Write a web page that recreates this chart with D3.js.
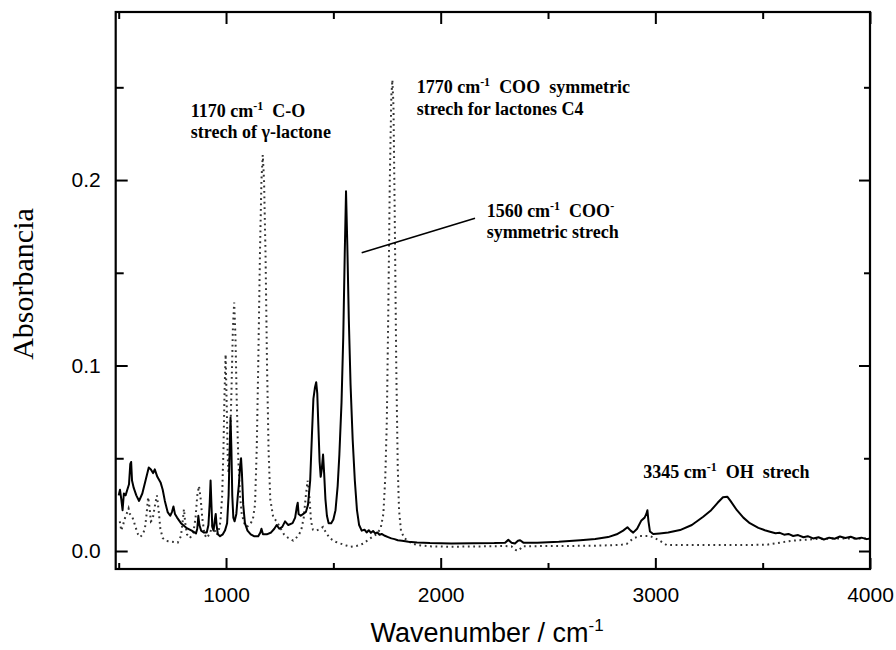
<!DOCTYPE html>
<html>
<head>
<meta charset="utf-8">
<script src="https://cdn.jsdelivr.net/npm/d3@7"></script>
<style>
  html, body { margin: 0; padding: 0; background: #fff; }
  svg { display: block; }
  text { white-space: pre; }
</style>
</head>
<body>
<svg id="chart" width="896" height="650"></svg>
<script>
// ---------- DATA ----------
// Solid spectrum (wavenumber cm-1, absorbance)
const solidWave = [500,506,512,518,524,532,540,548,554,558,562,570,582,595,610,625,640,650,660,668,680,695,705,715,728,740,748,755,762,772,790,815,840,860,866,871,876,884,896,910,918,924,928,932,936,942,948,952,956,962,972,985,995,1005,1012,1017,1021,1025,1029,1034,1040,1048,1055,1060,1065,1070,1074,1080,1088,1100,1115,1130,1150,1160,1165,1172,1190,1210,1225,1236,1248,1262,1275,1290,1310,1322,1330,1334,1338,1348,1360,1372,1382,1392,1400,1407,1414,1420,1425,1430,1436,1441,1446,1452,1457,1463,1470,1478,1490,1500,1510,1520,1528,1538,1546,1553,1559,1565,1572,1580,1590,1600,1610,1620,1632,1645,1655,1665,1675,1685,1695,1705,1715,1725,1740,1755,1770,1785,1800,1820,1850,1890,1950,2050,2150,2250,2300,2315,2330,2346,2360,2370,2385,2450,2550,2650,2720,2780,2820,2850,2870,2885,2897,2915,2935,2950,2958,2963,2968,2975,2990,3020,3060,3115,3170,3223,3260,3290,3315,3335,3350,3380,3410,3440,3480,3510,3534,3560,3580,3600,3620,3642,3665,3690,3710,3735,3760,3785,3810,3835,3860,3885,3910,3935,3960,3985,4000];
const solidAbs  = [0.030,0.033,0.028,0.022,0.031,0.030,0.033,0.036,0.047,0.048,0.038,0.034,0.030,0.027,0.031,0.038,0.045,0.044,0.042,0.044,0.040,0.037,0.033,0.027,0.021,0.019,0.021,0.024,0.020,0.018,0.015,0.0125,0.011,0.0095,0.012,0.019,0.014,0.011,0.010,0.010,0.014,0.026,0.038,0.025,0.013,0.011,0.017,0.020,0.014,0.009,0.008,0.009,0.011,0.015,0.030,0.055,0.072,0.055,0.030,0.018,0.016,0.020,0.030,0.036,0.045,0.050,0.042,0.025,0.015,0.011,0.009,0.008,0.008,0.010,0.012,0.009,0.009,0.010,0.012,0.014,0.012,0.013,0.016,0.014,0.015,0.018,0.024,0.026,0.020,0.019,0.020,0.021,0.025,0.038,0.062,0.082,0.088,0.091,0.085,0.068,0.048,0.040,0.044,0.052,0.042,0.028,0.019,0.015,0.015,0.017,0.022,0.035,0.052,0.080,0.115,0.160,0.194,0.165,0.125,0.090,0.060,0.038,0.022,0.014,0.011,0.0115,0.010,0.0112,0.0098,0.0108,0.0095,0.0100,0.0088,0.0092,0.0082,0.0075,0.0068,0.0064,0.0058,0.0055,0.0050,0.0046,0.0043,0.0041,0.0042,0.0043,0.0045,0.0060,0.0045,0.0040,0.0055,0.0058,0.0045,0.0045,0.0050,0.0058,0.0065,0.0075,0.0090,0.0110,0.0128,0.0110,0.0099,0.0120,0.0165,0.0180,0.0200,0.0220,0.0160,0.0105,0.0092,0.0095,0.0100,0.0113,0.0140,0.0185,0.0220,0.0260,0.0290,0.0293,0.0270,0.0220,0.0180,0.0150,0.0125,0.0112,0.0104,0.0096,0.0098,0.0088,0.0092,0.0081,0.0086,0.0074,0.0080,0.0068,0.0074,0.0062,0.0072,0.0066,0.0078,0.0070,0.0077,0.0066,0.0072,0.0064,0.0068];

// Dotted spectrum (wavenumber cm-1, absorbance)
const dottedWave = [505,512,520,530,540,546,552,560,568,578,590,600,612,622,630,637,643,650,658,668,678,686,694,705,720,745,775,790,798,804,810,818,832,848,858,866,874,882,890,900,910,925,940,948,957,966,974,982,988,993,998,1003,1008,1012,1018,1025,1032,1038,1044,1050,1057,1065,1073,1085,1096,1110,1125,1135,1143,1150,1158,1165,1171,1177,1184,1191,1198,1206,1220,1236,1255,1270,1290,1313,1335,1350,1362,1372,1380,1388,1396,1405,1420,1440,1452,1465,1484,1510,1531,1560,1580,1610,1640,1671,1700,1720,1733,1742,1749,1756,1763,1770,1775,1780,1786,1793,1800,1806,1815,1830,1860,1890,1950,2050,2200,2300,2330,2350,2365,2380,2500,2700,2840,2866,2897,2928,2975,3014,3053,3200,3400,3520,3580,3642,3750,3850,4000];
const dottedAbs  = [0.016,0.011,0.014,0.018,0.021,0.023,0.020,0.019,0.017,0.013,0.009,0.0075,0.009,0.012,0.020,0.029,0.024,0.016,0.017,0.024,0.030,0.022,0.012,0.007,0.0055,0.005,0.0045,0.008,0.016,0.0225,0.015,0.009,0.007,0.010,0.018,0.030,0.035,0.028,0.017,0.009,0.007,0.0095,0.015,0.011,0.0086,0.011,0.016,0.030,0.055,0.085,0.106,0.080,0.050,0.042,0.055,0.085,0.120,0.134,0.115,0.080,0.050,0.030,0.020,0.015,0.013,0.014,0.017,0.025,0.055,0.100,0.160,0.200,0.2135,0.200,0.160,0.100,0.055,0.028,0.018,0.016,0.012,0.009,0.007,0.0056,0.008,0.011,0.018,0.030,0.038,0.030,0.016,0.0115,0.011,0.012,0.013,0.010,0.0068,0.005,0.0041,0.003,0.0023,0.0028,0.004,0.0068,0.009,0.012,0.020,0.040,0.070,0.130,0.200,0.245,0.254,0.240,0.180,0.100,0.045,0.022,0.011,0.007,0.0045,0.0032,0.0025,0.0023,0.0025,0.0027,0.0025,0.0005,0.0003,0.0025,0.0027,0.0028,0.0033,0.0038,0.0068,0.0081,0.0081,0.006,0.0032,0.0032,0.0032,0.0034,0.0045,0.0056,0.0065,0.0068,0.0068];

const xMajorTicks = [1000, 2000, 3000, 4000];
const xMinorTicks = [500, 1500, 2500, 3500];
const yMajorTicks = [0.0, 0.1, 0.2];
const yMinorTicks = [0.05, 0.15, 0.25];

const annotations = [
  { lines: [["1170 cm", "-1", "  C-O"], ["strech of \u03b3-lactone"]], w: 836, a: 0.2342 },
  { lines: [["1770 cm", "-1", "  COO  symmetric"], ["strech for lactones C4"]], w: 1888, a: 0.2468 },
  { lines: [["1560 cm", "-1", "  COO", "-", ""], ["symmetric strech"]], w: 2214, a: 0.1802 },
  { lines: [["3345 cm", "-1", "  OH  strech"]], w: 2944, a: 0.0395 }
];
const leaderLine = { w1: 1632, a1: 0.1608, w2: 2160, a2: 0.1794 };

// ---------- CHART ----------
const svg = d3.select("#chart");
const L = 115.7, R = 870, T = 12, B = 569;

const x = d3.scaleLinear().domain([486, 4000]).range([L, R]);
const y = d3.scaleLinear().domain([-0.0097, 0.2906]).range([B, T]);

const solid = solidWave.map((w, i) => [w, solidAbs[i]]);
const dotted = dottedWave.map((w, i) => [w, dottedAbs[i]]);

const line = d3.line().x(d => x(d[0])).y(d => y(d[1]));

const plot = svg.append("g");
plot.append("clipPath").attr("id", "clip").append("rect")
  .attr("x", L).attr("y", T).attr("width", R - L).attr("height", B - T);

plot.append("path").datum(dotted)
  .attr("clip-path", "url(#clip)")
  .attr("d", line).attr("fill", "none")
  .attr("stroke", "#333").attr("stroke-width", 2)
  .attr("stroke-dasharray", "1.8,3.6");

plot.append("path").datum(solid)
  .attr("clip-path", "url(#clip)")
  .attr("d", line).attr("fill", "none")
  .attr("stroke", "#000").attr("stroke-width", 2)
  .attr("stroke-linejoin", "round");

// axes
const tickFont = "'Liberation Sans', Arial, sans-serif";
function styleAxis(g) {
  g.select(".domain").remove();
  g.selectAll(".tick line").attr("stroke", "#000").attr("stroke-width", 2);
  g.selectAll("text").attr("font-family", tickFont).attr("font-size", 21).attr("fill", "#000");
}
svg.append("g").attr("transform", `translate(0,${B})`)
  .call(d3.axisBottom(x).tickValues(xMajorTicks).tickSize(-11).tickPadding(18).tickFormat(d3.format("d")))
  .call(styleAxis);
svg.append("g").attr("transform", `translate(0,${B})`)
  .call(d3.axisBottom(x).tickValues(xMinorTicks).tickSize(-6).tickFormat(""))
  .call(styleAxis);
svg.append("g").attr("transform", `translate(0,${T})`)
  .call(d3.axisTop(x).tickValues(xMajorTicks).tickSize(-12).tickFormat(""))
  .call(styleAxis);
svg.append("g").attr("transform", `translate(0,${T})`)
  .call(d3.axisTop(x).tickValues(xMinorTicks).tickSize(-7).tickFormat(""))
  .call(styleAxis);
svg.append("g").attr("transform", `translate(${L},0)`)
  .call(d3.axisLeft(y).tickValues(yMajorTicks).tickSize(-12).tickPadding(15).tickFormat(d3.format(".1f")))
  .call(styleAxis);
svg.append("g").attr("transform", `translate(${L},0)`)
  .call(d3.axisLeft(y).tickValues(yMinorTicks).tickSize(-8).tickFormat(""))
  .call(styleAxis);
svg.append("g").attr("transform", `translate(${R},0)`)
  .call(d3.axisRight(y).tickValues(yMajorTicks).tickSize(-11).tickFormat(""))
  .call(styleAxis);
svg.append("g").attr("transform", `translate(${R},0)`)
  .call(d3.axisRight(y).tickValues(yMinorTicks).tickSize(-6).tickFormat(""))
  .call(styleAxis);

// frame
svg.append("rect").attr("x", L).attr("y", T).attr("width", R - L).attr("height", B - T)
  .attr("fill", "none").attr("stroke", "#000").attr("stroke-width", 2.2);

// axis titles
const xt = svg.append("text").attr("x", 487).attr("y", 642)
  .attr("text-anchor", "middle").attr("font-family", tickFont).attr("font-size", 27).attr("fill", "#000");
xt.append("tspan").text("Wavenumber / cm");
xt.append("tspan").attr("dy", -11).attr("font-size", 17).text("-1");

svg.append("text").attr("transform", "translate(33,284) rotate(-90)")
  .attr("text-anchor", "middle").attr("font-family", "'Liberation Serif', 'Times New Roman', serif")
  .attr("font-size", 30).attr("fill", "#000").text("Absorbancia");

// annotations
const serif = "'Liberation Serif', 'Times New Roman', serif";
annotations.forEach(an => {
  an.lines.forEach((parts, li) => {
    const t = svg.append("text").attr("x", x(an.w)).attr("y", y(an.a) + li * 21.6)
      .attr("font-family", serif).attr("font-weight", "bold").attr("font-size", 18).attr("fill", "#000");
    parts.forEach((p, pi) => {
      const ts = t.append("tspan").text(p);
      if (pi % 2 === 1) ts.attr("dy", -7).attr("font-size", 12);
      else if (pi > 0) ts.attr("dy", 7);
    });
  });
});

svg.append("line")
  .attr("x1", x(leaderLine.w1)).attr("y1", y(leaderLine.a1))
  .attr("x2", x(leaderLine.w2)).attr("y2", y(leaderLine.a2))
  .attr("stroke", "#000").attr("stroke-width", 1.6);
</script>
</body>
</html>
